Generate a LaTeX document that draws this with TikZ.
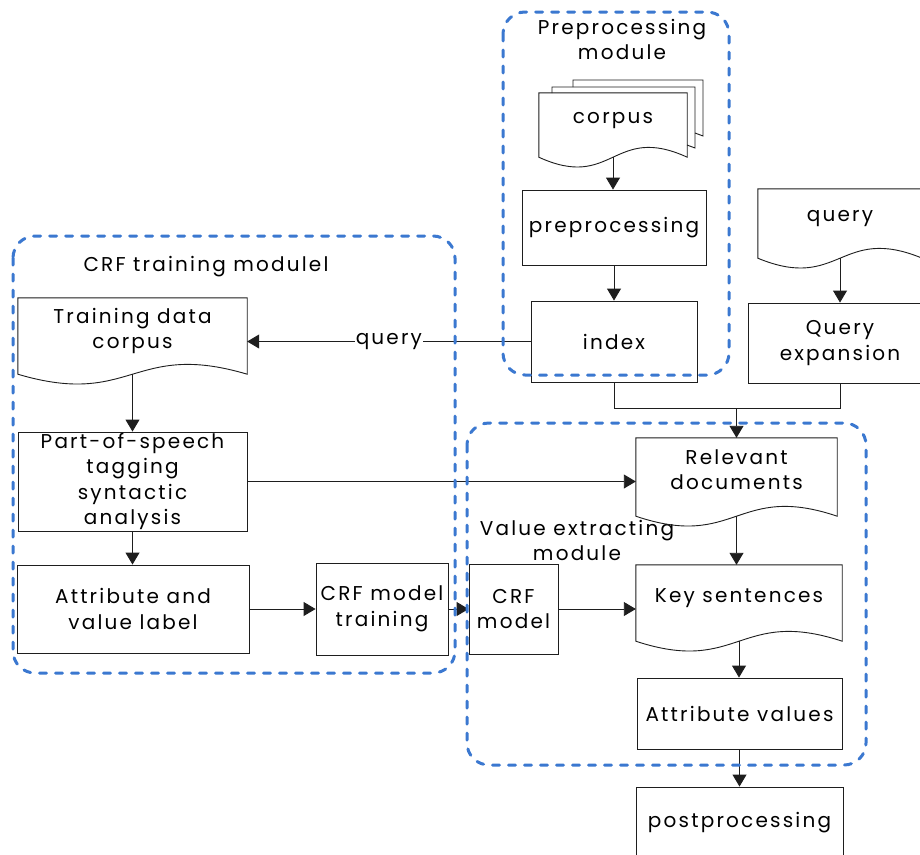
\documentclass[tikz,border=0pt]{standalone}
\usepackage{fontspec}
\setmainfont{Poppins}[LetterSpace=11.0]
\usetikzlibrary{arrows.meta,calc}
\definecolor{modblue}{RGB}{59,120,208}
\definecolor{linec}{RGB}{30,30,30}
\begin{document}
\begin{tikzpicture}[x=1pt,y=-1pt,
  every node/.style={font=\fontsize{20}{25.5}\selectfont, inner sep=0pt, align=center},
  box/.style={draw=linec, line width=0.9pt},
  doc/.style={text depth=15pt},
  arr/.style={draw=linec, line width=0.9pt, -{Triangle[length=12pt,width=14pt]}},
  conn/.style={draw=linec, line width=0.9pt},
  docline/.style={draw=linec, line width=0.9pt},
  module/.style={draw=modblue, line width=3pt, dash pattern=on 7pt off 9pt, line cap=round, rounded corners=22pt},
  title/.style={}
]
\useasboundingbox (0,0) rectangle (920,854);
\fill[white] (0,0) rectangle (920,854);

% ---------- preprocessing module ----------
\draw[docline] (552,93) -- (552,87) -- (695,87) -- (695,148) -- (687,145);
\draw[docline] (573,87) -- (573,80) -- (703,80) -- (703,136) -- (695,133);
\node[doc, minimum width=148pt, minimum height=64pt] (corpus) at (613,125) {corpus};
\node[box, minimum width=184pt, minimum height=75pt] (prep) at (614,227.5) {preprocessing};
\node[box, minimum width=166pt, minimum height=81pt] (index) at (614,341.5) {index};
\node[title] (pretitle) at (622,39.5) {Preprocessing\\module};

% ---------- query side ----------
\node[doc, minimum width=164pt, minimum height=69pt] (query) at (840,223.5) {query};
\node[box, minimum width=184pt, minimum height=80pt] (qexp) at (840,343) {Query\\expansion};

% ---------- CRF training module ----------
\node[doc, minimum width=229pt, minimum height=76pt] (train) at (132.5,336) {Training data\\corpus};
\node[box, minimum width=229pt, minimum height=99pt] (pos) at (132.5,481.5) {Part-of-speech\\tagging\\syntactic\\analysis};
\node[box, minimum width=232pt, minimum height=88pt] (attr) at (133,609) {Attribute and\\value label};
\node[box, minimum width=132pt, minimum height=92pt] (crftrain) at (382,609) {CRF model\\training};
\node[title] (crftitle) at (206,267) {CRF training modulel};

% ---------- value extracting module ----------
\node[doc, minimum width=201pt, minimum height=78pt] (rel) at (736.5,477) {Relevant\\documents};
\node[doc, minimum width=206pt, minimum height=76pt] (key) at (739,603) {Key sentences};
\node[box, minimum width=205pt, minimum height=71pt] (attrval) at (739.5,713.5) {Attribute values};
\node[box, minimum width=207pt, minimum height=71pt] (post) at (739.5,822.5) {postprocessing};
\node[box, minimum width=89pt, minimum height=90pt] (crf) at (513.5,609) {CRF\\model};
\node[title] (valtitle) at (577,540.5) {Value extracting\\module};

% ---------- document outlines ----------
\foreach \n in {corpus,query,train,rel,key}{
  \draw[docline] (\n.north west) -- (\n.south west)
    .. controls ($(\n.south)+(0,34)$) and ($(\n.south)+(0,-34)$) .. (\n.south east)
    -- (\n.north east) -- cycle;
}

% ---------- connectors ----------
\coordinate (j) at (736.5,408);
\draw[arr] (corpus.south) -- (corpus.south |- prep.north);
\draw[arr] (prep.south) -- (index.north);
\draw[arr] (query.south) -- (qexp.north);
\draw[conn] (index.south) |- (j);
\draw[conn] (qexp.south) |- (j);
\draw[arr] (j) -- (rel.north);
\draw[arr] (index.west) -- (index.west -| train.east)
  node[midway, fill=white, inner xsep=1pt, inner ysep=2pt] (qlabel) {query};
\draw[arr] (train.south) -- (train.south |- pos.north);
\draw[arr] (pos.south) -- (pos.south |- attr.north);
\draw[arr] (attr.east) -- (crftrain.west);
\draw[arr] (crftrain.east) -- (crf.west);
\draw[arr] (pos.east) -- (pos.east -| rel.west);
\draw[arr] (crf.east) -- (crf.east -| key.west);
\draw[arr] (rel.south) -- (rel.south |- key.north);
\draw[arr] (key.south) -- (key.south |- attrval.north);
\draw[arr] (attrval.south) -- (attrval.south |- post.north);

% ---------- dashed module frames ----------
\draw[module] (503,12) rectangle (729,375);
\draw[module] (13,236) rectangle (455,673);
\draw[module] (467,423) rectangle (866,765);
\end{tikzpicture}
\end{document}
